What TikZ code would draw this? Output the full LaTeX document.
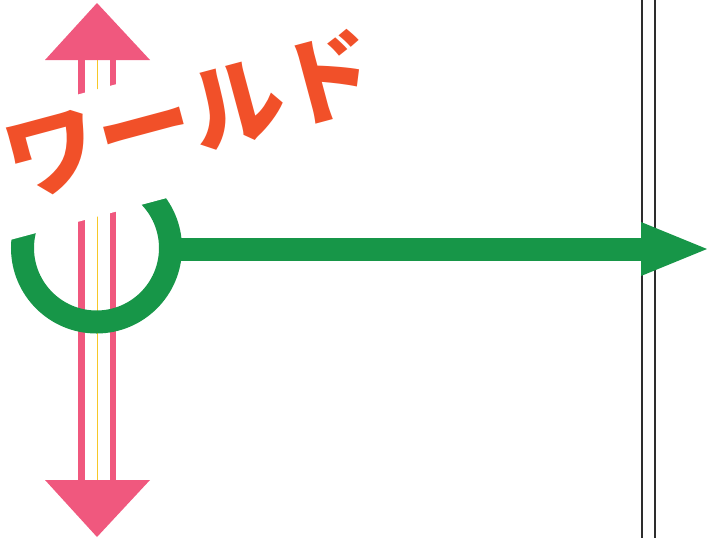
\documentclass[tikz,border=0pt]{standalone}
\usepackage{fontspec}
\newfontfamily\jpfont{Noto Sans CJK JP}
\definecolor{pinkc}{RGB}{240,88,126}
\definecolor{greenc}{RGB}{23,150,72}
\definecolor{orangec}{RGB}{241,80,41}
\definecolor{yellowc}{RGB}{247,200,40}
\definecolor{darkc}{RGB}{45,45,45}
\tikzset{
  pinkshaft/.style={draw=pinkc, line width=6.5pt},
  yellowline/.style={draw=yellowc, line width=1pt},
  pinkhead/.style={fill=pinkc},
  greenring/.style={draw=greenc, line width=23pt},
  greenshaft/.style={draw=greenc, line width=23pt},
  greenhead/.style={fill=greenc},
  rail/.style={draw=darkc, line width=2pt},
  titlebox/.style={rotate=15, anchor=base, fill=white, text=orangec,
    font=\jpfont\bfseries\fontsize{95}{95}\selectfont,
    inner xsep=40pt, inner ysep=0pt, text height=84pt, text depth=39pt}
}
\begin{document}
\begin{tikzpicture}[x=1pt,y=-1pt]
\useasboundingbox (0,0) rectangle (707,538);
\clip (0,0) rectangle (707,538);
% rails
\coordinate (r1t) at (642,0); \coordinate (r1b) at (642,538);
\coordinate (r2t) at (655,0); \coordinate (r2b) at (655,538);
\draw[rail] (r1t) -- (r1b);
\draw[rail] (r2t) -- (r2b);
% pink double arrow
\coordinate (ptop) at (97,60);
\coordinate (pbot) at (97,480);
\coordinate (uptip) at (97,3);
\coordinate (dntip) at (97,537);
\draw[pinkshaft] ([xshift=-15.5pt]ptop) -- ([xshift=-15.5pt]pbot);
\draw[pinkshaft] ([xshift=16pt]ptop) -- ([xshift=16pt]pbot);
\draw[yellowline] ([xshift=0.3pt]ptop) -- ([xshift=0.3pt]pbot);
\fill[pinkhead] ([xshift=-52pt]ptop) -- (uptip) -- ([xshift=53pt]ptop) -- cycle;
\fill[pinkhead] ([xshift=-52pt]pbot) -- (dntip) -- ([xshift=53pt]pbot) -- cycle;
% green ring
\coordinate (ringc) at (96.5,248);
\draw[greenring] (ringc) circle[radius=74];
% title
\node[titlebox] (title) at (199,149) {ワールド};
% green arrow
\coordinate (gstart) at (170,249);
\coordinate (gbase) at (641,249);
\coordinate (gtip) at (707,249);
\draw[greenshaft] (gstart) -- (gbase);
\fill[greenhead] ([yshift=-27pt]gbase) -- (gtip) -- ([yshift=27pt]gbase) -- cycle;
\end{tikzpicture}
\end{document}
